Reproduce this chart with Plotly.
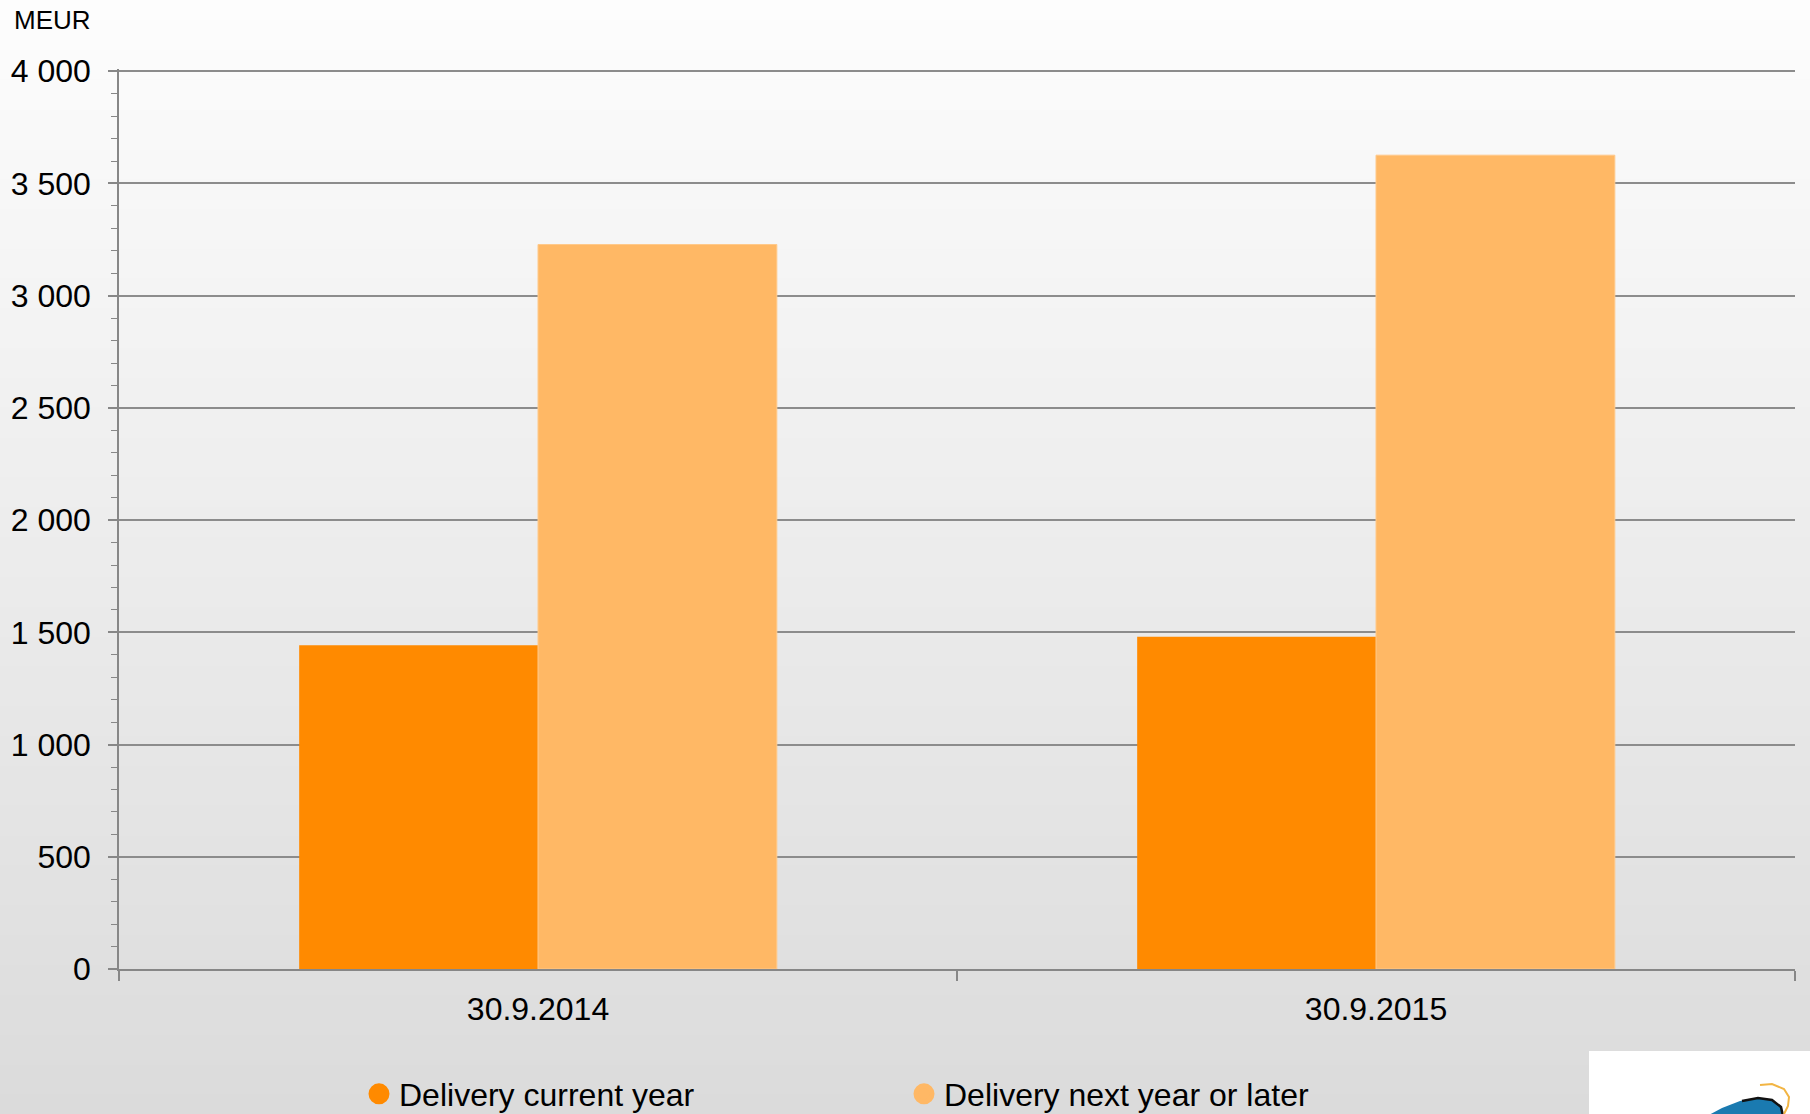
import plotly.graph_objects as go

categories = ["30.9.2014", "30.9.2015"]
current_year = [1443, 1480]
next_year = [3228, 3626]
series_names = ["Delivery current year", "Delivery next year or later"]
colors = ["#FF8A00", "#FFB865"]

W, H = 1810, 1114
L, R, T, B = 119, 15, 69, 145
PW, PH = W - L - R, H - T - B


def px(x):
    return (x - L) / PW


def py(y):
    return (H - B - y) / PH


fig = go.Figure()
fig.add_trace(go.Bar(x=categories, y=current_year, name=series_names[0],
                     marker=dict(color=colors[0], line=dict(width=0)), showlegend=False))
fig.add_trace(go.Bar(x=categories, y=next_year, name=series_names[1],
                     marker=dict(color=colors[1], line=dict(width=1, color="#FFC98A")), showlegend=False))
for n, c in zip(series_names, colors):
    fig.add_trace(go.Scatter(x=[None], y=[None], mode="markers", name=n,
                             marker=dict(symbol="circle", size=16, color=c,
                                         line=dict(color=c, width=5))))

shapes = []
nb = 112
for i in range(nb):
    y0 = i * H / nb
    y1 = (i + 1) * H / nb + 1
    v = 253 - 34 * ((y0 + y1) / 2) / H
    v = int(round(v))
    shapes.append(dict(type="rect", xref="paper", yref="paper", layer="below",
                       x0=px(-2), x1=px(W + 2), y0=py(y1), y1=py(y0),
                       fillcolor=f"rgb({v},{v},{v})", line=dict(width=0)))

# logo box
shapes.append(dict(type="rect", xref="paper", yref="paper", layer="above",
                   x0=px(1589), x1=px(W + 5), y0=py(H + 5), y1=py(1051),
                   fillcolor="white", line=dict(width=0)))


def path(points):
    s = "M " + " L ".join(f"{px(a):.5f},{py(b):.5f}" for a, b in points)
    return s


shapes.append(dict(type="path", xref="paper", yref="paper", layer="above",
                   path=path([(1707, 1116), (1722, 1108), (1740, 1101), (1758, 1098), (1772, 1100),
                              (1781, 1107), (1783, 1116)]) + " Z",
                   fillcolor="#1A7AB0", line=dict(width=0)))
shapes.append(dict(type="path", xref="paper", yref="paper", layer="above",
                   path=path([(1742, 1101), (1758, 1098), (1772, 1100), (1781, 1107), (1783, 1116)]),
                   line=dict(color="#111111", width=2.5)))
shapes.append(dict(type="path", xref="paper", yref="paper", layer="above",
                   path=path([(1760, 1085), (1772, 1084), (1784, 1089), (1789, 1097), (1788, 1106), (1784, 1114)]),
                   line=dict(color="#F2B544", width=2)))

fig.update_layout(
    width=W, height=H,
    margin=dict(l=L, r=R, t=T, b=B, autoexpand=False),
    paper_bgcolor="#e0e0e0",
    plot_bgcolor="rgba(0,0,0,0)",
    barmode="group", bargap=0.43, bargroupgap=0,
    separators=". ",
    font=dict(family="Liberation Sans, Arial, sans-serif", size=32, color="#000000"),
    shapes=shapes,
    showlegend=True,
    legend=dict(orientation="h", x=px(359), xanchor="left", y=py(1094), yanchor="middle",
                font=dict(size=32), entrywidth=500, entrywidthmode="pixels",
                bgcolor="rgba(0,0,0,0)", itemclick=False, itemsizing="trace"),
    annotations=[dict(text="MEUR", xref="paper", yref="paper", x=px(12), y=py(20),
                      xanchor="left", yanchor="middle", showarrow=False,
                      font=dict(size=26, color="#000000"))],
)

fig.update_xaxes(
    type="category", showline=True, linecolor="#878787", linewidth=1.5,
    ticks="outside", tickson="boundaries", ticklen=10, tickcolor="#878787", tickwidth=1.5,
    showgrid=False, ticklabelstandoff=11, tickfont=dict(size=32),
)
fig.update_yaxes(
    range=[0, 4010], tick0=0, dtick=500, tickformat=",d",
    showline=True, linecolor="#878787", linewidth=1.5,
    ticks="outside", ticklen=9, tickcolor="#878787", tickwidth=1.5,
    showgrid=True, gridcolor="#8c8c8c", gridwidth=1.5, zeroline=False,
    minor=dict(dtick=100, ticks="outside", ticklen=6, tickcolor="#878787", tickwidth=1.2, showgrid=False),
    ticklabelstandoff=11, tickfont=dict(size=32),
)

fig.write_html("out.html", config={"displayModeBar": False},
               post_script="document.body.style.margin='0';document.body.style.overflow='hidden';")
